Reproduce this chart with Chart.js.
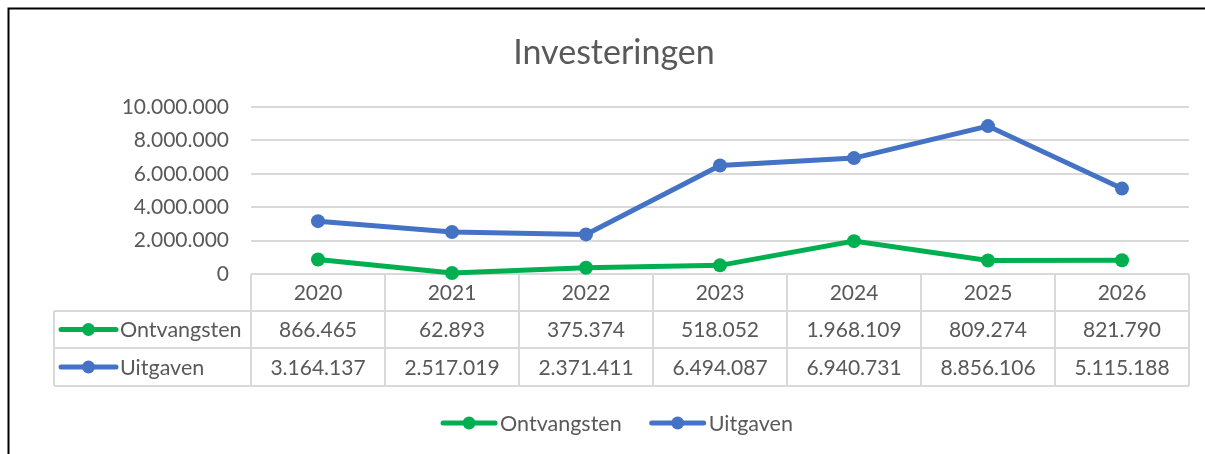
<!DOCTYPE html>
<html>
<head>
  <meta charset="utf-8">
  <title>Investeringen</title>
  <script src="https://cdn.jsdelivr.net/npm/chart.js@4.4.0/dist/chart.umd.min.js"></script>
  <style>
    html, body { margin: 0; padding: 0; background: #fff; }
    canvas { display: block; }
  </style>
</head>
<body>
  <canvas id="myChart" width="1205" height="454"></canvas>
  <script>
    const years = ['2020', '2021', '2022', '2023', '2024', '2025', '2026'];
    const ontvangsten = [866465, 62893, 375374, 518052, 1968109, 809274, 821790];
    const uitgaven = [3164137, 2517019, 2371411, 6494087, 6940731, 8856106, 5115188];
    const seriesNames = ['Ontvangsten', 'Uitgaven'];
    const chartTitle = 'Investeringen';

    const textColor = '#595959';
    const lineColor = '#d9d9d9';
    const fontName = 'Lato, "Open Sans", sans-serif';

    function fmt(v) {
      return String(Math.round(v)).replace(/\B(?=(\d{3})+(?!\d))/g, '.');
    }

    // draws the key (line with a dot) used in the table and in the legend
    function drawKey(ctx, x, y, w, color) {
      ctx.save();
      ctx.strokeStyle = color;
      ctx.lineWidth = 5;
      ctx.lineCap = 'round';
      ctx.beginPath();
      ctx.moveTo(x, y);
      ctx.lineTo(x + w, y);
      ctx.stroke();
      ctx.fillStyle = color;
      ctx.beginPath();
      ctx.arc(x + w / 2, y, 6.5, 0, Math.PI * 2);
      ctx.fill();
      ctx.restore();
    }

    const frameAndTitle = {
      id: 'frameAndTitle',
      beforeDraw(chart) {
        const ctx = chart.ctx;
        ctx.save();
        ctx.strokeStyle = '#000';
        ctx.lineWidth = 2;
        ctx.beginPath();
        ctx.moveTo(8.5, 454);
        ctx.lineTo(8.5, 8.5);
        ctx.lineTo(1205, 8.5);
        ctx.stroke();

        ctx.fillStyle = textColor;
        ctx.font = '34px ' + fontName;
        ctx.textAlign = 'center';
        ctx.textBaseline = 'alphabetic';
        ctx.fillText(chartTitle, 614, 64);
        ctx.restore();
      }
    };

    const dataTable = {
      id: 'dataTable',
      beforeDatasetsDraw(chart) {
        const ctx = chart.ctx;
        const x = chart.scales.x;
        const area = chart.chartArea;
        const colW = (area.right - area.left) / years.length;
        const rows = [area.bottom, area.bottom + 37, area.bottom + 74, area.bottom + 112];
        const keyLeft = 54;
        const colors = chart.data.datasets.map(d => d.borderColor);
        const values = chart.data.datasets.map(d => d.data);

        ctx.save();
        ctx.strokeStyle = lineColor;
        ctx.lineWidth = 2;
        ctx.beginPath();
        // horizontal lines
        ctx.moveTo(area.left, rows[0]); ctx.lineTo(area.right, rows[0]);
        for (let r = 1; r < rows.length; r++) {
          ctx.moveTo(keyLeft, rows[r]); ctx.lineTo(area.right, rows[r]);
        }
        // vertical lines
        for (let c = 0; c <= years.length; c++) {
          const xx = area.left + c * colW;
          ctx.moveTo(xx, rows[0]); ctx.lineTo(xx, rows[3]);
        }
        ctx.moveTo(keyLeft, rows[1]); ctx.lineTo(keyLeft, rows[3]);
        ctx.stroke();

        ctx.fillStyle = textColor;
        ctx.font = '21px ' + fontName;
        ctx.textBaseline = 'middle';
        ctx.textAlign = 'center';
        years.forEach((yr, i) => {
          const cx = x.getPixelForValue(i);
          ctx.fillText(yr, cx, (rows[0] + rows[1]) / 2 + 1);
          values.forEach((vals, s) => {
            ctx.fillText(fmt(vals[i]), cx, (rows[s + 1] + rows[s + 2]) / 2 + 1);
          });
        });
        ctx.textAlign = 'left';
        seriesNames.forEach((name, s) => {
          const cy = (rows[s + 1] + rows[s + 2]) / 2;
          drawKey(ctx, 61, cy, 55, colors[s]);
          ctx.fillStyle = textColor;
          ctx.font = '21.5px ' + fontName;
          ctx.fillText(name, 120, cy + 1);
        });
        ctx.restore();
      }
    };

    const bottomLegend = {
      id: 'bottomLegend',
      afterDraw(chart) {
        const ctx = chart.ctx;
        const colors = chart.data.datasets.map(d => d.borderColor);
        ctx.save();
        ctx.font = '21.5px ' + fontName;
        ctx.textBaseline = 'middle';
        ctx.textAlign = 'left';
        const keyW = 52, gap = 5, between = 30;
        const widths = seriesNames.map(n => keyW + gap + ctx.measureText(n).width);
        const total = widths.reduce((a, b) => a + b, 0) + between * (widths.length - 1);
        let xx = 618 - total / 2;
        const cy = 423;
        seriesNames.forEach((name, s) => {
          drawKey(ctx, xx, cy, keyW, colors[s]);
          ctx.fillStyle = textColor;
          ctx.fillText(name, xx + keyW + gap, cy + 1);
          xx += widths[s] + between;
        });
        ctx.restore();
      }
    };

    const ctx = document.getElementById('myChart').getContext('2d');
    const myChart = new Chart(ctx, {
      type: 'line',
      data: {
        labels: years,
        datasets: [
          {
            label: seriesNames[0],
            data: ontvangsten,
            borderColor: '#00b050',
            backgroundColor: '#00b050',
            borderWidth: 5,
            pointRadius: 7,
            pointBorderWidth: 0,
            tension: 0,
            clip: false
          },
          {
            label: seriesNames[1],
            data: uitgaven,
            borderColor: '#4472c4',
            backgroundColor: '#4472c4',
            borderWidth: 5,
            pointRadius: 7,
            pointBorderWidth: 0,
            tension: 0,
            clip: false
          }
        ]
      },
      options: {
        responsive: false,
        animation: false,
        devicePixelRatio: 1,
        layout: { padding: { left: 0, top: 107, right: 16, bottom: 180 } },
        plugins: {
          legend: { display: false },
          title: { display: false },
          tooltip: { enabled: false }
        },
        scales: {
          x: {
            display: false,
            offset: true
          },
          y: {
            min: 0,
            max: 10000000,
            ticks: {
              stepSize: 2000000,
              padding: 22,
              color: textColor,
              font: { family: fontName, size: 21 },
              callback: v => fmt(v)
            },
            grid: { color: lineColor, lineWidth: 2, drawTicks: false },
            border: { display: false },
            afterFit(scale) { scale.width = 251; }
          }
        }
      },
      plugins: [frameAndTitle, dataTable, bottomLegend]
    });
  </script>
</body>
</html>
